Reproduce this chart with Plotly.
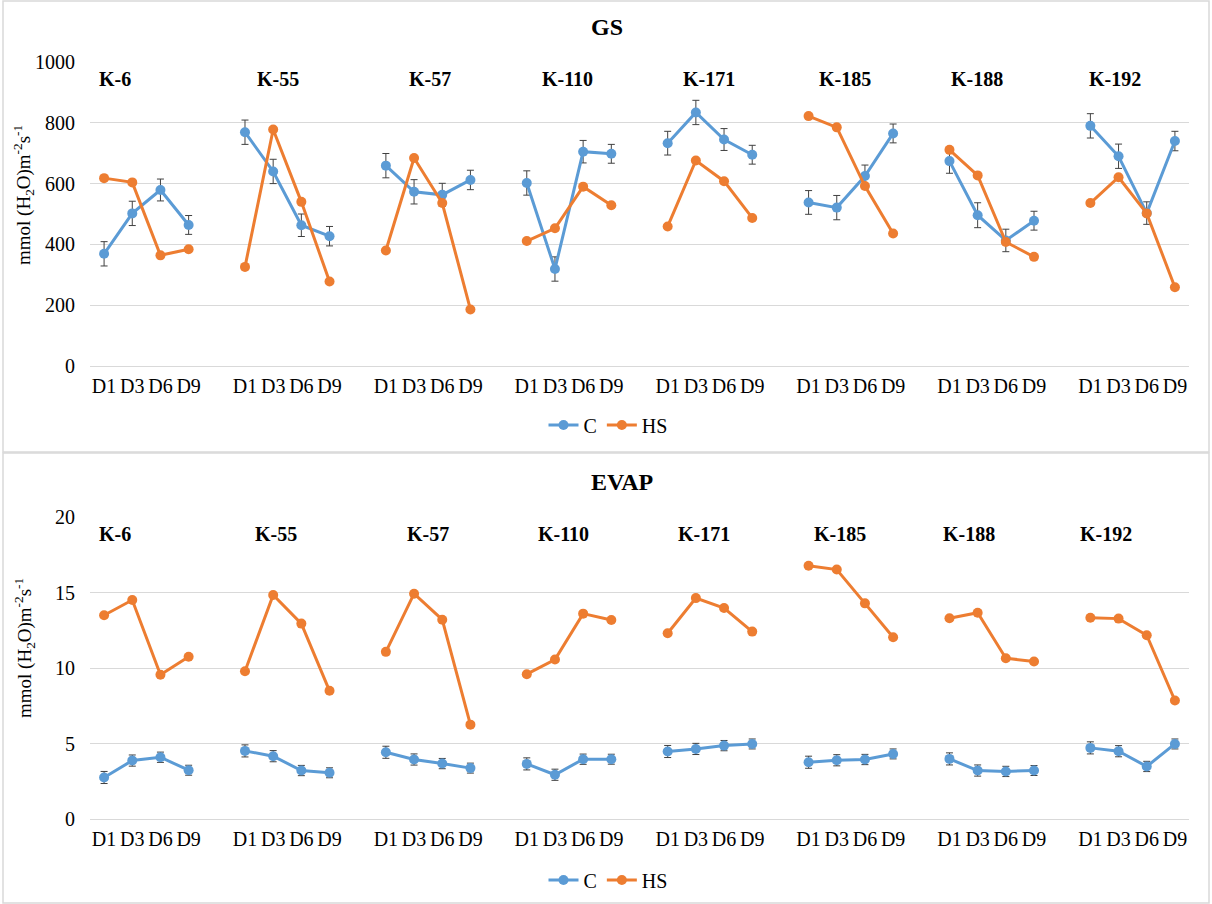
import plotly.graph_objects as go

# ---- data -------------------------------------------------------------
genotypes = ["K-6", "K-55", "K-57", "K-110", "K-171", "K-185", "K-188", "K-192"]
days = ["D1", "D3", "D6", "D9"]

# Stomatal conductance (GS), mmol (H2O) m-2 s-1
gs_c = [
    [369, 502, 579, 464],
    [769, 640, 463, 427],
    [659, 573, 563, 612],
    [602, 319, 705, 698],
    [733, 834, 745, 695],
    [538, 521, 625, 765],
    [674, 496, 413, 478],
    [790, 690, 503, 740],
]
gs_c_err = [
    [40, 40, 36, 31],
    [40, 40, 37, 32],
    [40, 40, 38, 32],
    [40, 40, 37, 31],
    [39, 40, 36, 31],
    [39, 40, 36, 31],
    [40, 41, 37, 31],
    [40, 40, 37, 32],
]
gs_hs = [
    [618, 604, 364, 384],
    [326, 778, 540, 278],
    [380, 684, 536, 186],
    [411, 453, 590, 529],
    [459, 676, 608, 487],
    [822, 785, 592, 436],
    [711, 627, 408, 359],
    [536, 621, 502, 259],
]

# Transpiration (EVAP), mmol (H2O) m-2 s-1
evap_c = [
    [2.75, 3.87, 4.09, 3.23],
    [4.51, 4.16, 3.21, 3.06],
    [4.42, 3.94, 3.67, 3.37],
    [3.65, 2.93, 3.96, 3.96],
    [4.47, 4.64, 4.86, 4.97],
    [3.76, 3.89, 3.94, 4.31],
    [3.98, 3.21, 3.15, 3.21],
    [4.71, 4.49, 3.48, 4.97],
]
evap_c_err = [
    [0.40, 0.37, 0.34, 0.33],
    [0.40, 0.37, 0.34, 0.33],
    [0.40, 0.37, 0.34, 0.33],
    [0.40, 0.37, 0.34, 0.33],
    [0.40, 0.37, 0.34, 0.33],
    [0.40, 0.37, 0.34, 0.33],
    [0.40, 0.37, 0.34, 0.33],
    [0.40, 0.37, 0.34, 0.33],
]
evap_hs = [
    [13.49, 14.50, 9.55, 10.74],
    [9.79, 14.83, 12.94, 8.49],
    [11.07, 14.92, 13.20, 6.25],
    [9.59, 10.56, 13.60, 13.18],
    [12.30, 14.63, 13.97, 12.41],
    [16.77, 16.52, 14.28, 12.04],
    [13.29, 13.66, 10.65, 10.43],
    [13.33, 13.27, 12.17, 7.85],
]

# ---- styling / layout constants --------------------------------------
W, H = 1212, 904
BLUE = "#5B9BD5"
ORANGE = "#ED7D31"
GRID = "#D9D9D9"
FONT = "Liberation Serif, Times New Roman, Times, serif"
SLOTS = len(days) + 1          # one empty slot separates the genotypes
N_SLOTS = SLOTS * len(genotypes) - 1

# genotype label anchors (in slot units) for each panel
label_slot_gs = [0.40, 6.17, 11.56, 16.43, 21.45, 26.3, 30.99, 35.88]
label_slot_ev = [0.40, 6.10, 11.49, 16.29, 21.28, 26.1, 30.68, 35.57]


def px(x):
    return x / W


def py(y):
    return 1 - y / H


def series(groups, errs=None):
    xs, ys, es = [], [], []
    for g, vals in enumerate(groups):
        for d, v in enumerate(vals):
            xs.append(g * SLOTS + d)
            ys.append(v)
            es.append(errs[g][d] if errs else 0)
        if g < len(groups) - 1:
            xs.append(g * SLOTS + len(vals))
            ys.append(None)
            es.append(0)
    return xs, ys, es


fig = go.Figure()

panels = [
    dict(c=gs_c, ce=gs_c_err, hs=gs_hs, xa="x", ya="y", leg="legend"),
    dict(c=evap_c, ce=evap_c_err, hs=evap_hs, xa="x2", ya="y2", leg="legend2"),
]
for p in panels:
    xs, ys, es = series(p["c"], p["ce"])
    fig.add_trace(go.Scatter(
        x=xs, y=ys, name="C", mode="lines+markers", connectgaps=False,
        line=dict(color=BLUE, width=3), marker=dict(color=BLUE, size=10),
        error_y=dict(type="data", array=es, visible=True, color="#404040",
                     thickness=1, width=3.5),
        xaxis=p["xa"], yaxis=p["ya"], legend=p["leg"],
    ))
    xs, ys, _ = series(p["hs"])
    fig.add_trace(go.Scatter(
        x=xs, y=ys, name="HS", mode="lines+markers", connectgaps=False,
        line=dict(color=ORANGE, width=3), marker=dict(color=ORANGE, size=10),
        xaxis=p["xa"], yaxis=p["ya"], legend=p["leg"],
    ))

tickvals = [g * SLOTS + d for g in range(len(genotypes)) for d in range(len(days))]
ticktext = [days[d] for g in range(len(genotypes)) for d in range(len(days))]

xcommon = dict(
    range=[-0.5, N_SLOTS - 0.5], domain=[px(90), px(1189)],
    tickmode="array", tickvals=tickvals, ticktext=ticktext,
    showgrid=False, zeroline=False, showline=False, ticks="",
    tickfont=dict(family=FONT, size=20, color="#000000"),
    ticklabelstandoff=6, fixedrange=True, automargin=False,
)
ycommon = dict(
    showgrid=True, gridcolor=GRID, gridwidth=1, zeroline=True,
    zerolinecolor=GRID, zerolinewidth=1, showline=False, ticks="",
    tickfont=dict(family=FONT, size=20, color="#000000"),
    ticklabelstandoff=14, fixedrange=True, automargin=False,
)

fig.update_layout(
    width=W, height=H,
    margin=dict(l=0, r=0, t=0, b=0, autoexpand=False),
    paper_bgcolor="white", plot_bgcolor="white",
    font=dict(family=FONT, size=20, color="#000000"),
    xaxis=dict(xcommon, anchor="y"),
    yaxis=dict(ycommon, range=[0, 1000], tickvals=[0, 200, 400, 600, 800, 1000],
               domain=[py(366), py(62)], anchor="x"),
    xaxis2=dict(xcommon, anchor="y2"),
    yaxis2=dict(ycommon, range=[0, 20], tickvals=[0, 5, 10, 15, 20],
                domain=[py(819), py(517)], anchor="x2"),
    legend=dict(orientation="h", x=px(608), xanchor="center", y=py(425),
                yanchor="middle", font=dict(family=FONT, size=20),
                bgcolor="rgba(0,0,0,0)", itemwidth=30, tracegroupgap=0),
    legend2=dict(orientation="h", x=px(608), xanchor="center", y=py(880),
                 yanchor="middle", font=dict(family=FONT, size=20),
                 bgcolor="rgba(0,0,0,0)", itemwidth=30, tracegroupgap=0),
    showlegend=True,
)

# chart frames
for y0, y1 in [(1, 452), (453, 903)]:
    fig.add_shape(type="rect", xref="paper", yref="paper",
                  x0=px(3), x1=px(1209), y0=py(y1), y1=py(y0),
                  line=dict(color=GRID, width=1.5), layer="below")

ytitle = "mmol (H<sub>2</sub>O)m<sup>-2</sup>s<sup>-1</sup>"
annotations = [
    dict(text="<b>GS</b>", x=px(607), y=py(27), font=dict(size=24)),
    dict(text="<b>EVAP</b>", x=px(622), y=py(482), font=dict(size=24)),
    dict(text=ytitle, x=px(24), y=py(195), textangle=-90, font=dict(size=19)),
    dict(text=ytitle, x=px(24), y=py(648), textangle=-90, font=dict(size=19)),
]
for a in annotations:
    a.update(xref="paper", yref="paper", showarrow=False,
             xanchor="center", yanchor="middle")

for name, xs in zip(genotypes, label_slot_gs):
    annotations.append(dict(text=f"<b>{name}</b>", x=xs, y=943, xref="x", yref="y",
                            showarrow=False, xanchor="center", yanchor="middle",
                            font=dict(size=20)))
for name, xs in zip(genotypes, label_slot_ev):
    annotations.append(dict(text=f"<b>{name}</b>", x=xs, y=18.88, xref="x2", yref="y2",
                            showarrow=False, xanchor="center", yanchor="middle",
                            font=dict(size=20)))
fig.update_layout(annotations=annotations)

# page body without default margin so the figure fills the window exactly
fig.write_html(
    "out.html",
    post_script="document.body.style.margin='0';document.body.style.overflow='hidden';",
)
